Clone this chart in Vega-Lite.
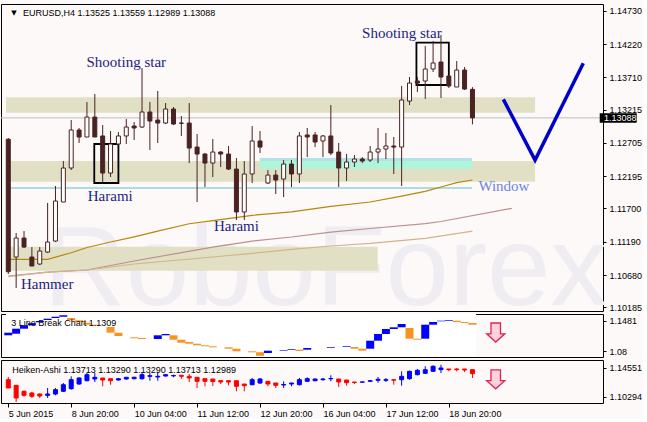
{
"$schema":"https://vega.github.io/schema/vega-lite/v6.json",
"background":"#FCF9F8",
"padding":{"left":0,"top":3,"right":0,"bottom":0},
"autosize":{"type":"pad"},
"spacing":3,
"bounds":"flush",
"resolve":{"scale":{"x":"independent","y":"independent","fill":"independent","stroke":"independent"}},
"config":{"view":{"stroke":"#000000","strokeWidth":1,"fill":"#FCF9F8"}},
"datasets":{
"candles":[
{"i":0,"o":1.12760,"h":1.12780,"l":1.10696,"c":1.10731},
{"i":1,"o":1.10956,"h":1.11324,"l":1.10481,"c":1.11247},
{"i":2,"o":1.11247,"h":1.11354,"l":1.11094,"c":1.11109},
{"i":3,"o":1.10956,"h":1.11109,"l":1.10818,"c":1.10818},
{"i":4,"o":1.10849,"h":1.11109,"l":1.10833,"c":1.11048},
{"i":5,"o":1.11032,"h":1.11784,"l":1.11017,"c":1.11186},
{"i":6,"o":1.11201,"h":1.12044,"l":1.11186,"c":1.11814},
{"i":7,"o":1.11799,"h":1.12427,"l":1.11799,"c":1.12320},
{"i":8,"o":1.12320,"h":1.13055,"l":1.12289,"c":1.12902},
{"i":9,"o":1.12902,"h":1.12933,"l":1.12703,"c":1.12795},
{"i":10,"o":1.12795,"h":1.13331,"l":1.12795,"c":1.13101},
{"i":11,"o":1.13101,"h":1.13454,"l":1.12795,"c":1.12795},
{"i":12,"o":1.12811,"h":1.12979,"l":1.12105,"c":1.12243},
{"i":13,"o":1.12243,"h":1.12887,"l":1.12182,"c":1.12688},
{"i":14,"o":1.12688,"h":1.12871,"l":1.12672,"c":1.12811},
{"i":15,"o":1.12811,"h":1.13071,"l":1.12688,"c":1.12948},
{"i":16,"o":1.12963,"h":1.13025,"l":1.12749,"c":1.12933},
{"i":17,"o":1.12948,"h":1.13852,"l":1.12933,"c":1.13178},
{"i":18,"o":1.13178,"h":1.13331,"l":1.12596,"c":1.13040},
{"i":19,"o":1.13055,"h":1.13500,"l":1.12703,"c":1.13009},
{"i":20,"o":1.13009,"h":1.13316,"l":1.12994,"c":1.13224},
{"i":21,"o":1.13224,"h":1.13254,"l":1.12979,"c":1.12994},
{"i":22,"o":1.13009,"h":1.13117,"l":1.12811,"c":1.13005},
{"i":23,"o":1.13009,"h":1.13316,"l":1.12396,"c":1.12626},
{"i":24,"o":1.12641,"h":1.12841,"l":1.11799,"c":1.12534},
{"i":25,"o":1.12534,"h":1.12550,"l":1.12029,"c":1.12396},
{"i":26,"o":1.12396,"h":1.12764,"l":1.12182,"c":1.12565},
{"i":27,"o":1.12565,"h":1.12580,"l":1.12335,"c":1.12534},
{"i":28,"o":1.12534,"h":1.12657,"l":1.12289,"c":1.12304},
{"i":29,"o":1.12304,"h":1.12473,"l":1.11523,"c":1.11646},
{"i":30,"o":1.11646,"h":1.12427,"l":1.11523,"c":1.12228},
{"i":31,"o":1.12228,"h":1.12963,"l":1.12090,"c":1.12734},
{"i":32,"o":1.12734,"h":1.12887,"l":1.12550,"c":1.12641},
{"i":33,"o":1.12090,"h":1.12289,"l":1.12075,"c":1.12212},
{"i":34,"o":1.12212,"h":1.12289,"l":1.11921,"c":1.12136},
{"i":35,"o":1.12151,"h":1.12442,"l":1.11875,"c":1.12381},
{"i":36,"o":1.12381,"h":1.12442,"l":1.12029,"c":1.12228},
{"i":37,"o":1.12228,"h":1.12871,"l":1.12090,"c":1.12811},
{"i":38,"o":1.12826,"h":1.12933,"l":1.12488,"c":1.12795},
{"i":39,"o":1.12826,"h":1.12871,"l":1.12641,"c":1.12718},
{"i":40,"o":1.12734,"h":1.12826,"l":1.12488,"c":1.12811},
{"i":41,"o":1.12811,"h":1.13285,"l":1.12519,"c":1.12550},
{"i":42,"o":1.12565,"h":1.12703,"l":1.12029,"c":1.12320},
{"i":43,"o":1.12320,"h":1.12534,"l":1.12121,"c":1.12412},
{"i":44,"o":1.12412,"h":1.12519,"l":1.12335,"c":1.12458},
{"i":45,"o":1.12458,"h":1.12488,"l":1.12396,"c":1.12427},
{"i":46,"o":1.12442,"h":1.12657,"l":1.12412,"c":1.12565},
{"i":47,"o":1.12565,"h":1.12933,"l":1.12396,"c":1.12611},
{"i":48,"o":1.12611,"h":1.12856,"l":1.12458,"c":1.12657},
{"i":49,"o":1.12657,"h":1.12795,"l":1.12228,"c":1.12641},
{"i":50,"o":1.12641,"h":1.13576,"l":1.12044,"c":1.13362},
{"i":51,"o":1.13346,"h":1.13714,"l":1.13285,"c":1.13622},
{"i":52,"o":1.13653,"h":1.13714,"l":1.13484,"c":1.13622},
{"i":53,"o":1.13653,"h":1.14189,"l":1.13377,"c":1.13837},
{"i":54,"o":1.13837,"h":1.14266,"l":1.13791,"c":1.13929},
{"i":55,"o":1.13944,"h":1.14358,"l":1.13392,"c":1.13714},
{"i":56,"o":1.13730,"h":1.13745,"l":1.13546,"c":1.13576},
{"i":57,"o":1.13561,"h":1.13959,"l":1.13561,"c":1.13821},
{"i":58,"o":1.13821,"h":1.13867,"l":1.13515,"c":1.13530},
{"i":59,"o":1.13525,"h":1.13559,"l":1.12989,"c":1.13088}
],
"ha":[
{"i":0,"o":1.12833,"h":1.13230,"l":1.11615,"c":1.11615},
{"i":1,"o":1.12011,"h":1.12011,"l":1.09560,"c":1.10147},
{"i":2,"o":1.11131,"h":1.11219,"l":1.10338,"c":1.10543},
{"i":3,"o":1.10881,"h":1.11028,"l":1.10147,"c":1.10397},
{"i":4,"o":1.10734,"h":1.10837,"l":1.10147,"c":1.10441},
{"i":5,"o":1.10543,"h":1.11615,"l":1.10147,"c":1.10734},
{"i":6,"o":1.10734,"h":1.11615,"l":1.10543,"c":1.11365},
{"i":7,"o":1.11131,"h":1.12349,"l":1.11028,"c":1.12099},
{"i":8,"o":1.11512,"h":1.13332,"l":1.11365,"c":1.12833},
{"i":9,"o":1.12202,"h":1.13186,"l":1.12099,"c":1.13083},
{"i":10,"o":1.12686,"h":1.13817,"l":1.12598,"c":1.13567},
{"i":11,"o":1.12936,"h":1.13817,"l":1.12496,"c":1.13186},
{"i":12,"o":1.13083,"h":1.13083,"l":1.11864,"c":1.12789},
{"i":13,"o":1.12980,"h":1.12980,"l":1.12099,"c":1.12686},
{"i":14,"o":1.12789,"h":1.13083,"l":1.12686,"c":1.12980},
{"i":15,"o":1.12936,"h":1.13230,"l":1.12833,"c":1.13186},
{"i":16,"o":1.12980,"h":1.13274,"l":1.12892,"c":1.13186},
{"i":17,"o":1.12980,"h":1.13964,"l":1.12833,"c":1.13567},
{"i":18,"o":1.13332,"h":1.13817,"l":1.12686,"c":1.13420},
{"i":19,"o":1.13230,"h":1.13964,"l":1.12686,"c":1.13332},
{"i":20,"o":1.13376,"h":1.13670,"l":1.13274,"c":1.13567},
{"i":21,"o":1.13391,"h":1.13567,"l":1.13186,"c":1.13450},
{"i":22,"o":1.13479,"h":1.13479,"l":1.12936,"c":1.13332},
{"i":23,"o":1.13332,"h":1.13670,"l":1.12496,"c":1.13083},
{"i":24,"o":1.13186,"h":1.13186,"l":1.11615,"c":1.12598},
{"i":25,"o":1.12980,"h":1.12980,"l":1.11864,"c":1.12598},
{"i":26,"o":1.12936,"h":1.12936,"l":1.11908,"c":1.12569},
{"i":27,"o":1.12686,"h":1.12686,"l":1.12202,"c":1.12496},
{"i":28,"o":1.12686,"h":1.12686,"l":1.12011,"c":1.12496},
{"i":29,"o":1.12686,"h":1.12686,"l":1.11131,"c":1.11864},
{"i":30,"o":1.12202,"h":1.12202,"l":1.11131,"c":1.11952},
{"i":31,"o":1.12099,"h":1.13083,"l":1.12011,"c":1.12833},
{"i":32,"o":1.12349,"h":1.13083,"l":1.12202,"c":1.12936},
{"i":33,"o":1.12598,"h":1.12598,"l":1.11864,"c":1.12202},
{"i":34,"o":1.12349,"h":1.12349,"l":1.11615,"c":1.12011},
{"i":35,"o":1.12055,"h":1.12598,"l":1.11615,"c":1.12129},
{"i":36,"o":1.12202,"h":1.12349,"l":1.11864,"c":1.12349},
{"i":37,"o":1.12099,"h":1.13083,"l":1.12011,"c":1.12833},
{"i":38,"o":1.12598,"h":1.13186,"l":1.12496,"c":1.12980},
{"i":39,"o":1.12686,"h":1.12980,"l":1.12598,"c":1.12936},
{"i":40,"o":1.12833,"h":1.13083,"l":1.12686,"c":1.12936},
{"i":41,"o":1.12965,"h":1.13479,"l":1.12598,"c":1.13009},
{"i":42,"o":1.12936,"h":1.12936,"l":1.11762,"c":1.12496},
{"i":43,"o":1.12789,"h":1.12789,"l":1.11952,"c":1.12393},
{"i":44,"o":1.12496,"h":1.12496,"l":1.12202,"c":1.12422},
{"i":45,"o":1.12466,"h":1.12510,"l":1.12466,"c":1.12510},
{"i":46,"o":1.12598,"h":1.12789,"l":1.12496,"c":1.12686},
{"i":47,"o":1.12745,"h":1.13230,"l":1.12393,"c":1.12892},
{"i":48,"o":1.12745,"h":1.13083,"l":1.12496,"c":1.12833},
{"i":49,"o":1.12833,"h":1.12833,"l":1.12099,"c":1.12760},
{"i":50,"o":1.12833,"h":1.14066,"l":1.11952,"c":1.13332},
{"i":51,"o":1.12980,"h":1.14154,"l":1.12833,"c":1.14066},
{"i":52,"o":1.13567,"h":1.14404,"l":1.13479,"c":1.14213},
{"i":53,"o":1.13773,"h":1.14800,"l":1.13670,"c":1.14301},
{"i":54,"o":1.14066,"h":1.14947,"l":1.13964,"c":1.14800},
{"i":55,"o":1.14301,"h":1.15035,"l":1.13817,"c":1.14551},
{"i":56,"o":1.14404,"h":1.14404,"l":1.14066,"c":1.14301},
{"i":57,"o":1.14404,"h":1.14551,"l":1.14066,"c":1.14301},
{"i":58,"o":1.14404,"h":1.14404,"l":1.13964,"c":1.14257},
{"i":59,"o":1.14301,"h":1.14301,"l":1.13083,"c":1.13714}
],
"tlb":[
{"i":0,"hi":1.12140,"lo":1.11561,"d":"u"},
{"i":1,"hi":1.13030,"lo":1.11917,"d":"u"},
{"i":2,"hi":1.13786,"lo":1.13030,"d":"u"},
{"i":3,"hi":1.14232,"lo":1.13786,"d":"u"},
{"i":4,"hi":1.14743,"lo":1.14454,"d":"u"},
{"i":5,"hi":1.15255,"lo":1.14966,"d":"u"},
{"i":6,"hi":1.15700,"lo":1.15411,"d":"u"},
{"i":7,"hi":1.16012,"lo":1.15700,"d":"u"},
{"i":8,"hi":1.15411,"lo":1.14899,"d":"d"},
{"i":9,"hi":1.14899,"lo":1.14521,"d":"d"},
{"i":10,"hi":1.14365,"lo":1.13920,"d":"d"},
{"i":11,"hi":1.13920,"lo":1.13697,"d":"d"},
{"i":13,"hi":1.13408,"lo":1.12140,"d":"d"},
{"i":14,"hi":1.12140,"lo":1.11405,"d":"d"},
{"i":16,"hi":1.11116,"lo":1.10894,"d":"d"},
{"i":17,"hi":1.10960,"lo":1.10738,"d":"d"},
{"i":19,"hi":1.11561,"lo":1.10738,"d":"u"},
{"i":20,"hi":1.11850,"lo":1.11561,"d":"u"},
{"i":21,"hi":1.11561,"lo":1.10582,"d":"d"},
{"i":22,"hi":1.10582,"lo":1.09914,"d":"d"},
{"i":23,"hi":1.10070,"lo":1.09692,"d":"d"},
{"i":24,"hi":1.09692,"lo":1.09336,"d":"d"},
{"i":25,"hi":1.09336,"lo":1.09113,"d":"d"},
{"i":26,"hi":1.09113,"lo":1.08891,"d":"d"},
{"i":28,"hi":1.08891,"lo":1.08579,"d":"d"},
{"i":29,"hi":1.08579,"lo":1.08001,"d":"d"},
{"i":31,"hi":1.08001,"lo":1.07778,"d":"d"},
{"i":32,"hi":1.07778,"lo":1.07022,"d":"d"},
{"i":33,"hi":1.08134,"lo":1.07623,"d":"u"},
{"i":35,"hi":1.08223,"lo":1.08090,"d":"u"},
{"i":36,"hi":1.08512,"lo":1.08357,"d":"u"},
{"i":37,"hi":1.08357,"lo":1.08067,"d":"d"},
{"i":38,"hi":1.08735,"lo":1.08357,"d":"u"},
{"i":41,"hi":1.08958,"lo":1.08802,"d":"u"},
{"i":43,"hi":1.09113,"lo":1.08958,"d":"u"},
{"i":44,"hi":1.08958,"lo":1.08579,"d":"d"},
{"i":45,"hi":1.08579,"lo":1.08134,"d":"d"},
{"i":46,"hi":1.10359,"lo":1.08579,"d":"u"},
{"i":47,"hi":1.11850,"lo":1.10359,"d":"u"},
{"i":48,"hi":1.12963,"lo":1.11850,"d":"u"},
{"i":49,"hi":1.13341,"lo":1.12963,"d":"u"},
{"i":50,"hi":1.14076,"lo":1.13341,"d":"u"},
{"i":51,"hi":1.13186,"lo":1.10805,"d":"d"},
{"i":52,"hi":1.10805,"lo":1.10582,"d":"d"},
{"i":53,"hi":1.13920,"lo":1.10805,"d":"u"},
{"i":54,"hi":1.14521,"lo":1.13920,"d":"u"},
{"i":55,"hi":1.14810,"lo":1.14677,"d":"u"},
{"i":56,"hi":1.14966,"lo":1.14810,"d":"u"},
{"i":57,"hi":1.14810,"lo":1.14521,"d":"d"},
{"i":58,"hi":1.14521,"lo":1.14298,"d":"d"},
{"i":59,"hi":1.14298,"lo":1.13920,"d":"d"}
],
"ma":[
{"s":"a","i":0,"p":1.10921},{"s":"a","i":5,"p":1.10921},{"s":"a","i":8,"p":1.11022},{"s":"a","i":10,"p":1.11102},{"s":"a","i":13,"p":1.11186},{"s":"a","i":16,"p":1.11266},{"s":"a","i":19,"p":1.11354},{"s":"a","i":23,"p":1.11466},{"s":"a","i":26,"p":1.11514},{"s":"a","i":31,"p":1.11595},{"s":"a","i":36,"p":1.11649},{"s":"a","i":41,"p":1.11733},{"s":"a","i":46,"p":1.11799},{"s":"a","i":50,"p":1.11888},{"s":"a","i":53,"p":1.11963},{"s":"a","i":55,"p":1.12029},{"s":"a","i":57,"p":1.12095},{"s":"a","i":59,"p":1.12136},
{"s":"b","i":0,"p":1.10665},{"s":"b","i":5,"p":1.10726},{"s":"b","i":10,"p":1.10757},{"s":"b","i":16,"p":1.10895},{"s":"b","i":26,"p":1.11109},{"s":"b","i":31,"p":1.11201},{"s":"b","i":36,"p":1.11263},{"s":"b","i":41,"p":1.11339},{"s":"b","i":46,"p":1.11393},{"s":"b","i":53,"p":1.11469},{"s":"b","i":55,"p":1.11500},{"s":"b","i":64,"p":1.11702},
{"s":"c","i":0,"p":1.10654},{"s":"c","i":5,"p":1.10726},{"s":"c","i":10,"p":1.10757},{"s":"c","i":16,"p":1.10849},{"s":"c","i":26,"p":1.10956},{"s":"c","i":31,"p":1.11013},{"s":"c","i":36,"p":1.11074},{"s":"c","i":41,"p":1.11125},{"s":"c","i":46,"p":1.11166},{"s":"c","i":53,"p":1.11243},{"s":"c","i":59,"p":1.11354}
],
"zones":[
{"a":-0.29,"b":66.96,"p1":1.13167,"p2":1.13403},
{"a":-0.29,"b":66.96,"p1":1.12110,"p2":1.12427},
{"a":-0.29,"b":46.96,"p1":1.10746,"p2":1.11114}
],
"cyan":[
{"k":"edge","a":31.96,"b":58.93,"p1":1.12427,"p2":1.12473},
{"k":"fill","a":31.96,"b":58.93,"p1":1.12304,"p2":1.12427}
],
"boxes":[
{"a":10.93,"b":14.0,"p1":1.12090,"p2":1.12688},
{"a":51.88,"b":56.0,"p1":1.13592,"p2":1.14240}
],
"notes":[
{"i":15.0,"p":1.13872,"t":"Shooting star"},
{"i":50.03,"p":1.14307,"t":"Shooting star"},
{"i":12.96,"p":1.11814,"t":"Harami"},
{"i":29.0,"p":1.11354,"t":"Harami"},
{"i":4.94,"p":1.10461,"t":"Hammer"}
],
"vline":[
{"k":1,"i":62.93,"p":1.13372},
{"k":2,"i":66.96,"p":1.12442},
{"k":3,"i":73.09,"p":1.13924}
]
},
"vconcat":[
{
"width":602,"height":307,
"layer":[
{"data":{"values":[{"i":40.3,"p":1.10221,"t":"RoboForex"}]},
 "mark":{"type":"text","font":"Liberation Sans","fontSize":114,"color":"#EFEDF2","align":"center","baseline":"alphabetic"},
 "encoding":{
  "x":{"field":"i","type":"quantitative","scale":{"domain":[-0.29,74.96],"nice":false,"zero":false},"axis":null},
  "y":{"field":"p","type":"quantitative","scale":{"domain":[1.10129,1.14833],"nice":false,"zero":false},
       "axis":{"orient":"right","values":[1.14730,1.14220,1.13710,1.13215,1.12705,1.12195,1.11700,1.11190,1.10680,1.10185],"format":".5f","tickSize":3,"tickColor":"#000000","labelPadding":3,"domain":false,"grid":false,"title":null,"labelFont":"Liberation Sans","labelFontSize":9,"labelColor":"#000000","labelOverlap":false}},
  "text":{"field":"t"}}},
{"data":{"name":"zones"},
 "mark":{"type":"rect","color":"#E1E0C5"},
 "encoding":{
  "x":{"field":"a","type":"quantitative","scale":{"domain":[-0.29,74.96],"nice":false,"zero":false},"axis":null},
  "x2":{"field":"b"},
  "y":{"field":"p1","type":"quantitative","scale":{"domain":[1.10129,1.14833],"nice":false,"zero":false},
       "axis":{"orient":"right","values":[1.14730,1.14220,1.13710,1.13215,1.12705,1.12195,1.11700,1.11190,1.10680,1.10185],"format":".5f","tickSize":3,"tickColor":"#000000","labelPadding":3,"domain":false,"grid":false,"title":null,"labelFont":"Liberation Sans","labelFontSize":9,"labelColor":"#000000","labelOverlap":false}},
  "y2":{"field":"p2"}}},
{"data":{"name":"cyan"},
 "mark":{"type":"rect"},
 "encoding":{
  "x":{"field":"a","type":"quantitative","scale":{"domain":[-0.29,74.96],"nice":false,"zero":false},"axis":null},
  "x2":{"field":"b"},
  "y":{"field":"p1","type":"quantitative","scale":{"domain":[1.10129,1.14833],"nice":false,"zero":false},
       "axis":{"orient":"right","values":[1.14730,1.14220,1.13710,1.13215,1.12705,1.12195,1.11700,1.11190,1.10680,1.10185],"format":".5f","tickSize":3,"tickColor":"#000000","labelPadding":3,"domain":false,"grid":false,"title":null,"labelFont":"Liberation Sans","labelFontSize":9,"labelColor":"#000000","labelOverlap":false}},
  "y2":{"field":"p2"},
  "fill":{"condition":{"test":"datum.k == 'edge'","value":"#B2E2E8"},"value":"#AEF5DA"}}},
{"data":{"values":[{"a":-0.29,"b":58.93,"p":1.12013}]},
 "mark":{"type":"rule","color":"#ADDCE3","strokeWidth":2},
 "encoding":{
  "x":{"field":"a","type":"quantitative","scale":{"domain":[-0.29,74.96],"nice":false,"zero":false},"axis":null},
  "x2":{"field":"b"},
  "y":{"field":"p","type":"quantitative","scale":{"domain":[1.10129,1.14833],"nice":false,"zero":false},
       "axis":{"orient":"right","values":[1.14730,1.14220,1.13710,1.13215,1.12705,1.12195,1.11700,1.11190,1.10680,1.10185],"format":".5f","tickSize":3,"tickColor":"#000000","labelPadding":3,"domain":false,"grid":false,"title":null,"labelFont":"Liberation Sans","labelFontSize":9,"labelColor":"#000000","labelOverlap":false}}}},
{"data":{"values":[{"p":1.13088}]},
 "mark":{"type":"rule","color":"#BDBDBD","strokeWidth":1},
 "encoding":{
  "y":{"field":"p","type":"quantitative","scale":{"domain":[1.10129,1.14833],"nice":false,"zero":false},
       "axis":{"orient":"right","values":[1.14730,1.14220,1.13710,1.13215,1.12705,1.12195,1.11700,1.11190,1.10680,1.10185],"format":".5f","tickSize":3,"tickColor":"#000000","labelPadding":3,"domain":false,"grid":false,"title":null,"labelFont":"Liberation Sans","labelFontSize":9,"labelColor":"#000000","labelOverlap":false}}}},
{"data":{"name":"ma"},
 "mark":{"type":"line","strokeWidth":1.2},
 "encoding":{
  "x":{"field":"i","type":"quantitative","scale":{"domain":[-0.29,74.96],"nice":false,"zero":false},"axis":null},
  "y":{"field":"p","type":"quantitative","scale":{"domain":[1.10129,1.14833],"nice":false,"zero":false},
       "axis":{"orient":"right","values":[1.14730,1.14220,1.13710,1.13215,1.12705,1.12195,1.11700,1.11190,1.10680,1.10185],"format":".5f","tickSize":3,"tickColor":"#000000","labelPadding":3,"domain":false,"grid":false,"title":null,"labelFont":"Liberation Sans","labelFontSize":9,"labelColor":"#000000","labelOverlap":false}},
  "stroke":{"field":"s","type":"nominal","scale":{"domain":["a","b","c"],"range":["#B8860B","#BC8F8F","#D2B48C"]},"legend":null}}},
{"data":{"name":"boxes"},
 "mark":{"type":"rect","fillOpacity":0,"stroke":"#000000","strokeWidth":1.8},
 "encoding":{
  "x":{"field":"a","type":"quantitative","scale":{"domain":[-0.29,74.96],"nice":false,"zero":false},"axis":null},
  "x2":{"field":"b"},
  "y":{"field":"p1","type":"quantitative","scale":{"domain":[1.10129,1.14833],"nice":false,"zero":false},
       "axis":{"orient":"right","values":[1.14730,1.14220,1.13710,1.13215,1.12705,1.12195,1.11700,1.11190,1.10680,1.10185],"format":".5f","tickSize":3,"tickColor":"#000000","labelPadding":3,"domain":false,"grid":false,"title":null,"labelFont":"Liberation Sans","labelFontSize":9,"labelColor":"#000000","labelOverlap":false}},
  "y2":{"field":"p2"}}},
{"data":{"name":"candles"},
 "mark":{"type":"rule","color":"#4A2222","strokeWidth":1},
 "encoding":{
  "x":{"field":"i","type":"quantitative","scale":{"domain":[-0.29,74.96],"nice":false,"zero":false},"axis":null},
  "y":{"field":"l","type":"quantitative","scale":{"domain":[1.10129,1.14833],"nice":false,"zero":false},
       "axis":{"orient":"right","values":[1.14730,1.14220,1.13710,1.13215,1.12705,1.12195,1.11700,1.11190,1.10680,1.10185],"format":".5f","tickSize":3,"tickColor":"#000000","labelPadding":3,"domain":false,"grid":false,"title":null,"labelFont":"Liberation Sans","labelFontSize":9,"labelColor":"#000000","labelOverlap":false}},
  "y2":{"field":"h"}}},
{"data":{"name":"candles"},
 "mark":{"type":"bar","size":4,"stroke":"#4A2222","strokeWidth":1},
 "encoding":{
  "x":{"field":"i","type":"quantitative","scale":{"domain":[-0.29,74.96],"nice":false,"zero":false},"axis":null},
  "y":{"field":"o","type":"quantitative","scale":{"domain":[1.10129,1.14833],"nice":false,"zero":false},
       "axis":{"orient":"right","values":[1.14730,1.14220,1.13710,1.13215,1.12705,1.12195,1.11700,1.11190,1.10680,1.10185],"format":".5f","tickSize":3,"tickColor":"#000000","labelPadding":3,"domain":false,"grid":false,"title":null,"labelFont":"Liberation Sans","labelFontSize":9,"labelColor":"#000000","labelOverlap":false}},
  "y2":{"field":"c"},
  "fill":{"condition":{"test":"datum.c >= datum.o","value":"#FFFFFF"},"value":"#4A2222"}}},
{"data":{"name":"notes"},
 "mark":{"type":"text","font":"Liberation Serif","fontSize":15,"color":"#1E1E7E","align":"center","baseline":"alphabetic"},
 "encoding":{
  "x":{"field":"i","type":"quantitative","scale":{"domain":[-0.29,74.96],"nice":false,"zero":false},"axis":null},
  "y":{"field":"p","type":"quantitative","scale":{"domain":[1.10129,1.14833],"nice":false,"zero":false},
       "axis":{"orient":"right","values":[1.14730,1.14220,1.13710,1.13215,1.12705,1.12195,1.11700,1.11190,1.10680,1.10185],"format":".5f","tickSize":3,"tickColor":"#000000","labelPadding":3,"domain":false,"grid":false,"title":null,"labelFont":"Liberation Sans","labelFontSize":9,"labelColor":"#000000","labelOverlap":false}},
  "text":{"field":"t"}}},
{"data":{"values":[{"i":63.0,"p":1.11967,"t":"Window"}]},
 "mark":{"type":"text","font":"Liberation Serif","fontSize":15,"color":"#6F84DC","align":"center","baseline":"alphabetic"},
 "encoding":{
  "x":{"field":"i","type":"quantitative","scale":{"domain":[-0.29,74.96],"nice":false,"zero":false},"axis":null},
  "y":{"field":"p","type":"quantitative","scale":{"domain":[1.10129,1.14833],"nice":false,"zero":false},
       "axis":{"orient":"right","values":[1.14730,1.14220,1.13710,1.13215,1.12705,1.12195,1.11700,1.11190,1.10680,1.10185],"format":".5f","tickSize":3,"tickColor":"#000000","labelPadding":3,"domain":false,"grid":false,"title":null,"labelFont":"Liberation Sans","labelFontSize":9,"labelColor":"#000000","labelOverlap":false}},
  "text":{"field":"t"}}},
{"data":{"name":"vline"},
 "mark":{"type":"line","color":"#0000CC","strokeWidth":3.5,"strokeJoin":"miter"},
 "encoding":{
  "x":{"field":"i","type":"quantitative","scale":{"domain":[-0.29,74.96],"nice":false,"zero":false},"axis":null},
  "y":{"field":"p","type":"quantitative","scale":{"domain":[1.10129,1.14833],"nice":false,"zero":false},
       "axis":{"orient":"right","values":[1.14730,1.14220,1.13710,1.13215,1.12705,1.12195,1.11700,1.11190,1.10680,1.10185],"format":".5f","tickSize":3,"tickColor":"#000000","labelPadding":3,"domain":false,"grid":false,"title":null,"labelFont":"Liberation Sans","labelFontSize":9,"labelColor":"#000000","labelOverlap":false}},
  "order":{"field":"k","type":"quantitative"}}},
{"data":{"values":[{"i":0.71,"p":1.14699,"t":"▼"}]},
 "mark":{"type":"text","font":"DejaVu Sans","fontSize":7,"color":"#000000","align":"center","baseline":"middle"},
 "encoding":{
  "x":{"field":"i","type":"quantitative","scale":{"domain":[-0.29,74.96],"nice":false,"zero":false},"axis":null},
  "y":{"field":"p","type":"quantitative","scale":{"domain":[1.10129,1.14833],"nice":false,"zero":false},
       "axis":{"orient":"right","values":[1.14730,1.14220,1.13710,1.13215,1.12705,1.12195,1.11700,1.11190,1.10680,1.10185],"format":".5f","tickSize":3,"tickColor":"#000000","labelPadding":3,"domain":false,"grid":false,"title":null,"labelFont":"Liberation Sans","labelFontSize":9,"labelColor":"#000000","labelOverlap":false}},
  "text":{"field":"t"}}},
{"data":{"values":[{"i":1.875,"p":1.14699,"t":"EURUSD,H4  1.13525 1.13559 1.12989 1.13088"}]},
 "mark":{"type":"text","font":"Liberation Sans","fontSize":9,"color":"#000000","align":"left","baseline":"middle"},
 "encoding":{
  "x":{"field":"i","type":"quantitative","scale":{"domain":[-0.29,74.96],"nice":false,"zero":false},"axis":null},
  "y":{"field":"p","type":"quantitative","scale":{"domain":[1.10129,1.14833],"nice":false,"zero":false},
       "axis":{"orient":"right","values":[1.14730,1.14220,1.13710,1.13215,1.12705,1.12195,1.11700,1.11190,1.10680,1.10185],"format":".5f","tickSize":3,"tickColor":"#000000","labelPadding":3,"domain":false,"grid":false,"title":null,"labelFont":"Liberation Sans","labelFontSize":9,"labelColor":"#000000","labelOverlap":false}},
  "text":{"field":"t"}}},
{"data":{"values":[{"a":75.18,"b":79.88,"p1":1.13014,"p2":1.13158}]},
 "mark":{"type":"rect","color":"#000000"},
 "encoding":{
  "x":{"field":"a","type":"quantitative","scale":{"domain":[-0.29,74.96],"nice":false,"zero":false},"axis":null},
  "x2":{"field":"b"},
  "y":{"field":"p1","type":"quantitative","scale":{"domain":[1.10129,1.14833],"nice":false,"zero":false},
       "axis":{"orient":"right","values":[1.14730,1.14220,1.13710,1.13215,1.12705,1.12195,1.11700,1.11190,1.10680,1.10185],"format":".5f","tickSize":3,"tickColor":"#000000","labelPadding":3,"domain":false,"grid":false,"title":null,"labelFont":"Liberation Sans","labelFontSize":9,"labelColor":"#000000","labelOverlap":false}},
  "y2":{"field":"p2"}}},
{"data":{"values":[{"i":75.71,"p":1.13088,"t":"1.13088"}]},
 "mark":{"type":"text","font":"Liberation Sans","fontSize":9,"color":"#FFFFFF","align":"left","baseline":"middle"},
 "encoding":{
  "x":{"field":"i","type":"quantitative","scale":{"domain":[-0.29,74.96],"nice":false,"zero":false},"axis":null},
  "y":{"field":"p","type":"quantitative","scale":{"domain":[1.10129,1.14833],"nice":false,"zero":false},
       "axis":{"orient":"right","values":[1.14730,1.14220,1.13710,1.13215,1.12705,1.12195,1.11700,1.11190,1.10680,1.10185],"format":".5f","tickSize":3,"tickColor":"#000000","labelPadding":3,"domain":false,"grid":false,"title":null,"labelFont":"Liberation Sans","labelFontSize":9,"labelColor":"#000000","labelOverlap":false}},
  "text":{"field":"t"}}}
]
},
{
"width":602,"height":43,
"layer":[
{"data":{"values":[{"a":-0.29,"b":59.47,"p1":1.06732,"p2":1.16301}]},
 "mark":{"type":"rect","color":"#FFFFFF"},
 "encoding":{
  "x":{"field":"a","type":"quantitative","scale":{"domain":[-0.29,74.96],"nice":false,"zero":false},"axis":null},
  "x2":{"field":"b"},
  "y":{"field":"p1","type":"quantitative","scale":{"domain":[1.06732,1.16301],"nice":false,"zero":false},
       "axis":{"orient":"right","values":[1.1481,1.08],"format":".4~f","tickSize":3,"tickColor":"#000000","labelPadding":3,"domain":false,"grid":false,"title":null,"labelFont":"Liberation Sans","labelFontSize":9,"labelColor":"#000000","labelOverlap":false}},
  "y2":{"field":"p2"}}},
{"data":{"name":"tlb"},
 "mark":{"type":"bar","size":8},
 "encoding":{
  "x":{"field":"i","type":"quantitative","scale":{"domain":[-0.29,74.96],"nice":false,"zero":false},"axis":null},
  "y":{"field":"lo","type":"quantitative","scale":{"domain":[1.06732,1.16301],"nice":false,"zero":false},
       "axis":{"orient":"right","values":[1.1481,1.08],"format":".4~f","tickSize":3,"tickColor":"#000000","labelPadding":3,"domain":false,"grid":false,"title":null,"labelFont":"Liberation Sans","labelFontSize":9,"labelColor":"#000000","labelOverlap":false}},
  "y2":{"field":"hi"},
  "fill":{"condition":{"test":"datum.d == 'u'","value":"#0000FF"},"value":"#F7931E"}}},
{"data":{"values":[{"i":0.375,"p":1.14365,"t":"3 Line Break Chart 1.1309"}]},
 "mark":{"type":"text","font":"Liberation Sans","fontSize":9,"color":"#000000","align":"left","baseline":"middle"},
 "encoding":{
  "x":{"field":"i","type":"quantitative","scale":{"domain":[-0.29,74.96],"nice":false,"zero":false},"axis":null},
  "y":{"field":"p","type":"quantitative","scale":{"domain":[1.06732,1.16301],"nice":false,"zero":false},
       "axis":{"orient":"right","values":[1.1481,1.08],"format":".4~f","tickSize":3,"tickColor":"#000000","labelPadding":3,"domain":false,"grid":false,"title":null,"labelFont":"Liberation Sans","labelFontSize":9,"labelColor":"#000000","labelOverlap":false}},
  "text":{"field":"t"}}},
{"data":{"values":[{"i":61.96,"p":1.12184}]},
 "mark":{"type":"point","shape":"M-0.5,-1L0.5,-1L0.5,0.14L0.95,0.14L0,1L-0.95,0.14L-0.5,0.14Z","size":361,"filled":true,"fill":"#FAD3DE","stroke":"#E2224F","strokeWidth":1.3,"opacity":1},
 "encoding":{
  "x":{"field":"i","type":"quantitative","scale":{"domain":[-0.29,74.96],"nice":false,"zero":false},"axis":null},
  "y":{"field":"p","type":"quantitative","scale":{"domain":[1.06732,1.16301],"nice":false,"zero":false},
       "axis":{"orient":"right","values":[1.1481,1.08],"format":".4~f","tickSize":3,"tickColor":"#000000","labelPadding":3,"domain":false,"grid":false,"title":null,"labelFont":"Liberation Sans","labelFontSize":9,"labelColor":"#000000","labelOverlap":false}}}}
]
},
{
"width":602,"height":43,
"layer":[
{"data":{"name":"ha"},
 "mark":{"type":"rule","strokeWidth":1},
 "encoding":{
  "x":{"field":"i","type":"quantitative","scale":{"domain":[-0.29,74.96],"nice":false,"zero":false},
       "axis":{"orient":"bottom","values":[0,8,16,24,32,40,48,56],"labelExpr":"['5 Jun 2015','8 Jun 20:00','10 Jun 04:00','11 Jun 12:00','12 Jun 20:00','16 Jun 04:00','17 Jun 12:00','18 Jun 20:00'][round(datum.value/8)]","labelAlign":"left","labelDx":1,"labelFlush":false,"labelOverlap":false,"tickSize":4,"tickColor":"#000000","labelPadding":2,"domain":false,"grid":false,"title":null,"labelFont":"Liberation Sans","labelFontSize":9,"labelColor":"#000000"}},
  "y":{"field":"l","type":"quantitative","scale":{"domain":[1.09413,1.15725],"nice":false,"zero":false},
       "axis":{"orient":"right","values":[1.14551,1.10294],"format":".5f","tickSize":3,"tickColor":"#000000","labelPadding":3,"domain":false,"grid":false,"title":null,"labelFont":"Liberation Sans","labelFontSize":9,"labelColor":"#000000","labelOverlap":false}},
  "y2":{"field":"h"},
  "stroke":{"condition":{"test":"datum.c >= datum.o","value":"#0000FF"},"value":"#FF0000"}}},
{"data":{"name":"ha"},
 "mark":{"type":"bar","size":4,"strokeWidth":1},
 "encoding":{
  "x":{"field":"i","type":"quantitative","scale":{"domain":[-0.29,74.96],"nice":false,"zero":false},
       "axis":{"orient":"bottom","values":[0,8,16,24,32,40,48,56],"labelExpr":"['5 Jun 2015','8 Jun 20:00','10 Jun 04:00','11 Jun 12:00','12 Jun 20:00','16 Jun 04:00','17 Jun 12:00','18 Jun 20:00'][round(datum.value/8)]","labelAlign":"left","labelDx":1,"labelFlush":false,"labelOverlap":false,"tickSize":4,"tickColor":"#000000","labelPadding":2,"domain":false,"grid":false,"title":null,"labelFont":"Liberation Sans","labelFontSize":9,"labelColor":"#000000"}},
  "y":{"field":"o","type":"quantitative","scale":{"domain":[1.09413,1.15725],"nice":false,"zero":false},
       "axis":{"orient":"right","values":[1.14551,1.10294],"format":".5f","tickSize":3,"tickColor":"#000000","labelPadding":3,"domain":false,"grid":false,"title":null,"labelFont":"Liberation Sans","labelFontSize":9,"labelColor":"#000000","labelOverlap":false}},
  "y2":{"field":"c"},
  "fill":{"condition":{"test":"datum.c >= datum.o","value":"#0000FF"},"value":"#FF0000"},
  "stroke":{"condition":{"test":"datum.c >= datum.o","value":"#0000FF"},"value":"#FF0000"}}},
{"data":{"values":[{"i":0.5,"p":1.14301,"t":"Heiken-Ashi 1.13713 1.13290 1.13290 1.13713 1.12989"}]},
 "mark":{"type":"text","font":"Liberation Sans","fontSize":9,"color":"#000000","align":"left","baseline":"middle"},
 "encoding":{
  "x":{"field":"i","type":"quantitative","scale":{"domain":[-0.29,74.96],"nice":false,"zero":false},
       "axis":{"orient":"bottom","values":[0,8,16,24,32,40,48,56],"labelExpr":"['5 Jun 2015','8 Jun 20:00','10 Jun 04:00','11 Jun 12:00','12 Jun 20:00','16 Jun 04:00','17 Jun 12:00','18 Jun 20:00'][round(datum.value/8)]","labelAlign":"left","labelDx":1,"labelFlush":false,"labelOverlap":false,"tickSize":4,"tickColor":"#000000","labelPadding":2,"domain":false,"grid":false,"title":null,"labelFont":"Liberation Sans","labelFontSize":9,"labelColor":"#000000"}},
  "y":{"field":"p","type":"quantitative","scale":{"domain":[1.09413,1.15725],"nice":false,"zero":false},
       "axis":{"orient":"right","values":[1.14551,1.10294],"format":".5f","tickSize":3,"tickColor":"#000000","labelPadding":3,"domain":false,"grid":false,"title":null,"labelFont":"Liberation Sans","labelFontSize":9,"labelColor":"#000000","labelOverlap":false}},
  "text":{"field":"t"}}},
{"data":{"values":[{"i":61.96,"p":1.12892}]},
 "mark":{"type":"point","shape":"M-0.5,-1L0.5,-1L0.5,0.14L0.95,0.14L0,1L-0.95,0.14L-0.5,0.14Z","size":361,"filled":true,"fill":"#FAD3DE","stroke":"#E2224F","strokeWidth":1.3,"opacity":1},
 "encoding":{
  "x":{"field":"i","type":"quantitative","scale":{"domain":[-0.29,74.96],"nice":false,"zero":false},
       "axis":{"orient":"bottom","values":[0,8,16,24,32,40,48,56],"labelExpr":"['5 Jun 2015','8 Jun 20:00','10 Jun 04:00','11 Jun 12:00','12 Jun 20:00','16 Jun 04:00','17 Jun 12:00','18 Jun 20:00'][round(datum.value/8)]","labelAlign":"left","labelDx":1,"labelFlush":false,"labelOverlap":false,"tickSize":4,"tickColor":"#000000","labelPadding":2,"domain":false,"grid":false,"title":null,"labelFont":"Liberation Sans","labelFontSize":9,"labelColor":"#000000"}},
  "y":{"field":"p","type":"quantitative","scale":{"domain":[1.09413,1.15725],"nice":false,"zero":false},
       "axis":{"orient":"right","values":[1.14551,1.10294],"format":".5f","tickSize":3,"tickColor":"#000000","labelPadding":3,"domain":false,"grid":false,"title":null,"labelFont":"Liberation Sans","labelFontSize":9,"labelColor":"#000000","labelOverlap":false}}}}
]
}
]
}
